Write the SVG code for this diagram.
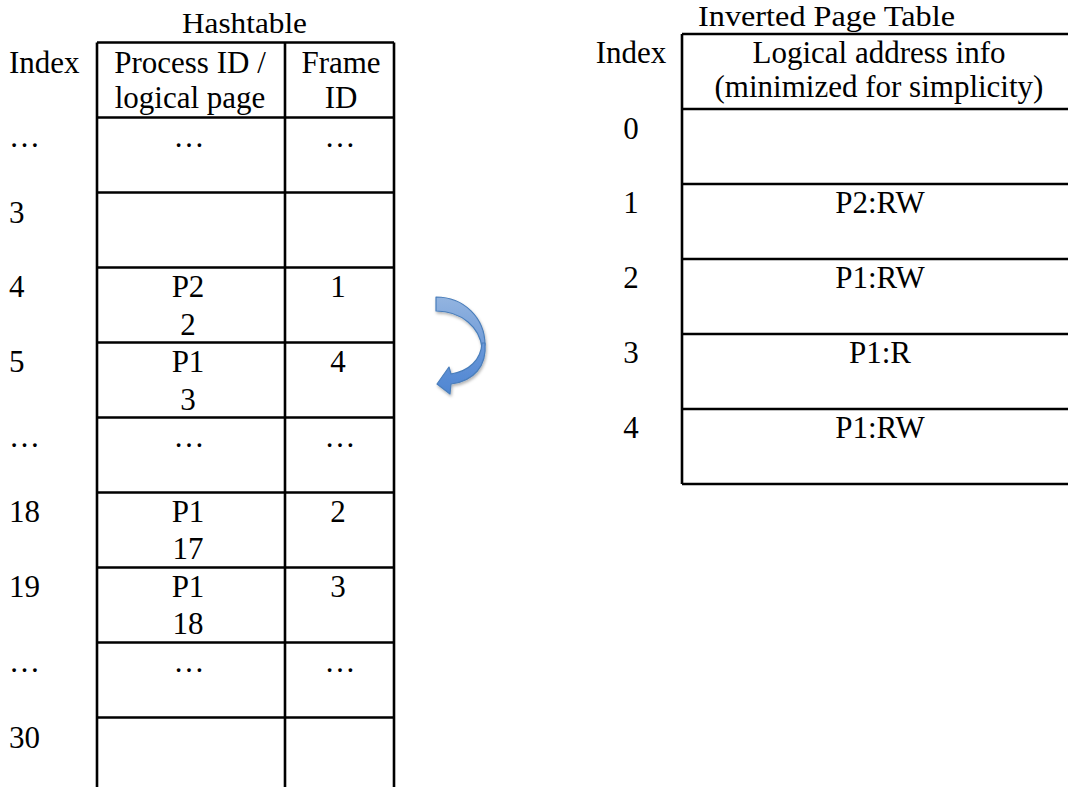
<svg xmlns="http://www.w3.org/2000/svg" width="1068" height="787" viewBox="0 0 1068 787">
<style>
text{font-family:"Liberation Serif","Times New Roman",serif;font-size:31px;fill:#000}
.m{text-anchor:middle}
.t{font-size:29px}
.g{stroke:#000;stroke-width:2.6;fill:none}
</style>
<defs>
<linearGradient id="ga" x1="0" y1="0" x2="0" y2="1">
<stop offset="0" stop-color="#93b4e0"/>
<stop offset="1" stop-color="#6f9bd8"/>
</linearGradient>
<linearGradient id="gb" x1="0" y1="0" x2="0" y2="1">
<stop offset="0" stop-color="#6a98d9"/>
<stop offset="1" stop-color="#4f86d2"/>
</linearGradient>
<filter id="sh" x="-30%" y="-30%" width="160%" height="160%">
<feDropShadow dx="1" dy="2" stdDeviation="1.5" flood-color="#000" flood-opacity="0.3"/>
</filter>
</defs>
<rect width="1068" height="787" fill="#fff"/>

<g id="hashtable">
<text class="m t" x="244.5" y="33" textLength="125" lengthAdjust="spacingAndGlyphs">Hashtable</text>
<g id="hash-grid" class="g">
<path d="M97,42.5H394M97,117.5H394M97,192.5H394M97,267.5H394M97,342.5H394M97,417.5H394M97,492.5H394M97,567.5H394M97,642.5H394M97,717.5H394"/>
<path d="M97,42.5V787M285,42.5V787M394,42.5V787"/>
</g>
<g id="hash-header">
<text x="9" y="73">Index</text>
<text class="m" x="190" y="73">Process ID /</text>
<text class="m" x="190" y="108">logical page</text>
<text class="m" x="341" y="73">Frame</text>
<text class="m" x="341" y="108">ID</text>
</g>
<g id="hash-row-dots1">
<text x="9" y="147">…</text>
<text class="m" x="189" y="147">…</text>
<text class="m" x="340" y="147">…</text>
</g>
<g id="hash-row-3"><text x="9" y="223">3</text></g>
<g id="hash-row-4">
<text x="9" y="297">4</text>
<text class="m" x="188" y="297">P2</text>
<text class="m" x="188" y="335">2</text>
<text class="m" x="338" y="297">1</text>
</g>
<g id="hash-row-5">
<text x="9" y="372">5</text>
<text class="m" x="188" y="372">P1</text>
<text class="m" x="188" y="410">3</text>
<text class="m" x="338" y="372">4</text>
</g>
<g id="hash-row-dots2">
<text x="9" y="447">…</text>
<text class="m" x="189" y="447">…</text>
<text class="m" x="340" y="447">…</text>
</g>
<g id="hash-row-18">
<text x="9" y="522">18</text>
<text class="m" x="188" y="522">P1</text>
<text class="m" x="188" y="559">17</text>
<text class="m" x="338" y="522">2</text>
</g>
<g id="hash-row-19">
<text x="9" y="597">19</text>
<text class="m" x="188" y="597">P1</text>
<text class="m" x="188" y="634">18</text>
<text class="m" x="338" y="597">3</text>
</g>
<g id="hash-row-dots3">
<text x="9" y="672">…</text>
<text class="m" x="189" y="672">…</text>
<text class="m" x="340" y="672">…</text>
</g>
<g id="hash-row-30"><text x="9" y="748">30</text></g>
</g>

<g id="connectors">
<g id="curved-arrow" filter="url(#sh)" stroke="#4a7ebb" stroke-width="1.2" stroke-linejoin="round">
<path fill="url(#ga)" d="M436,297 C464,297 485,318 485,345 L482,348 C480,328 462,311 436,311 Z"/>
<path fill="url(#gb)" d="M482,343 C481,360 469,371 451,374 L449,367 L437,384 L450,394 L451,384 C474,381 487,366 485,343 Z"/>
</g>
</g>

<g id="inverted-page-table">
<text class="m t" x="826.5" y="26" textLength="257" lengthAdjust="spacingAndGlyphs">Inverted Page Table</text>
<g id="ipt-grid" class="g">
<path d="M682,34H1068M682,109H1068M682,184H1068M682,259H1068M682,334H1068M682,409H1068M682,484H1068"/>
<path d="M682,34V484"/>
</g>
<g id="ipt-header">
<text class="m" x="631" y="63">Index</text>
<text class="m" x="879" y="63">Logical address info</text>
<text class="m" x="879" y="97">(minimized for simplicity)</text>
</g>
<g id="ipt-row-0"><text class="m" x="631" y="139">0</text></g>
<g id="ipt-row-1"><text class="m" x="631" y="213">1</text><text class="m" x="880" y="213">P2:RW</text></g>
<g id="ipt-row-2"><text class="m" x="631" y="288">2</text><text class="m" x="880" y="288">P1:RW</text></g>
<g id="ipt-row-3"><text class="m" x="631" y="363">3</text><text class="m" x="880" y="363">P1:R</text></g>
<g id="ipt-row-4"><text class="m" x="631" y="438">4</text><text class="m" x="880" y="438">P1:RW</text></g>
</g>
</svg>
